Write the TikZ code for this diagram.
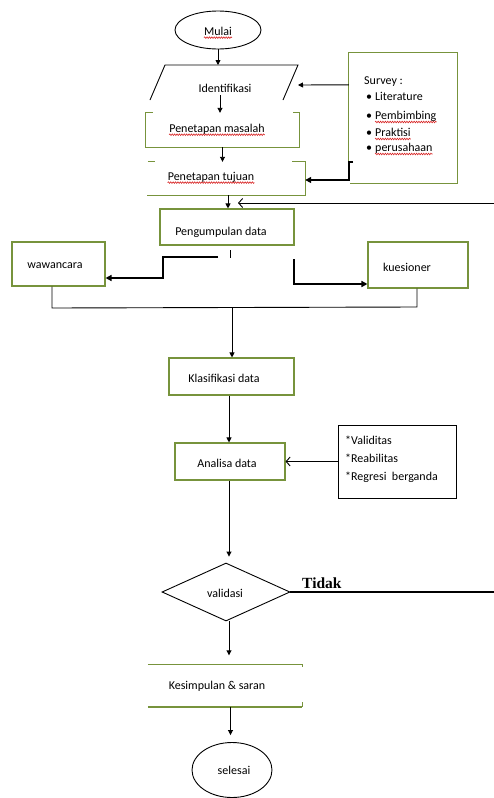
\documentclass[tikz,border=0pt]{standalone}
\usepackage{fontspec}
\setmainfont{Carlito}
\newfontfamily\tnrfont{Liberation Serif}
\usetikzlibrary{arrows.meta,shapes.geometric,decorations.pathmorphing}
\definecolor{boxgreen}{RGB}{119,147,60}
\definecolor{sqred}{RGB}{215,35,35}
\definecolor{sqblue}{RGB}{50,50,190}
\newlength\wordw
\newcommand\msize{\fontsize{12}{14}\selectfont}
\begin{document}
\begin{tikzpicture}[x=1pt,y=-1pt,
  font=\msize,
  tx/.style={inner sep=0pt},
  line/.style={line width=0.9pt},
  arr/.style={line width=0.9pt,-{Triangle[length=5pt,width=5pt]}},
  openarr/.style={line width=0.9pt,-{Straight Barb[length=4pt,width=9pt]}},
  thickarr/.style={line width=2pt,-{Triangle[length=6pt,width=6pt]}},
  gline/.style={draw=boxgreen,line width=1.1pt},
  gbox/.style={draw=boxgreen,line width=1.1pt,inner sep=0pt},
  sqr/.style={draw=sqred,line width=0.6pt,decorate,decoration={snake,amplitude=0.8pt,segment length=2.4pt}},
  sqb/.style={sqr,draw=sqblue},
]
\useasboundingbox (0,0) rectangle (494,798);

% Mulai
\node[draw,ellipse,line width=0.9pt,minimum width=86pt,minimum height=38pt,inner sep=0pt] (mulai) at (218,30) {};
\node[tx] (tmulai) at (218,31) {Mulai};
\settowidth\wordw{\msize M}
\draw[sqr] ([xshift=\wordw,yshift=-2.5pt]tmulai.base west) -- ([yshift=-2.5pt]tmulai.base east);

% Identifikasi (parallelogram)
\coordinate (pbl) at (150,100);
\coordinate (ptl) at (165,65);
\coordinate (ptr) at (298,65);
\coordinate (pbr) at (283,100);
\coordinate (identr) at (298,85);
\draw[line] (pbl) -- (ptl) -- (ptr) -- (pbr);
\node[tx] (ident) at (225,88) {Identifikasi};
\draw[arr] (mulai.south) -- (mulai.south |- ptl);

% Penetapan masalah
\node[minimum width=153pt,minimum height=34pt,inner sep=0pt] (masalah) at (222.5,130) {};
\draw[gline] ([xshift=7pt]masalah.north west) -- (masalah.north west) -- (masalah.south west)
  -- (masalah.south east) -- (masalah.north east) -- ([xshift=-6pt]masalah.north east);
\node[tx] (tmas) at (217,129) {Penetapan masalah};
\draw[sqr] ([yshift=-2.5pt]tmas.base west) -- ([yshift=-2.5pt]tmas.base east);
\draw[arr] ([xshift=-5pt,yshift=-3pt]ident.south) -- ([xshift=-5pt]ident.south |- masalah.north);

% Penetapan tujuan
\node[minimum width=158pt,minimum height=33pt,inner sep=0pt] (tujuan) at (226,178.5) {};
\draw[gline] ([xshift=1pt]tujuan.north west) -- ([xshift=8pt]tujuan.north west);
\draw[gline] ([xshift=-13pt]tujuan.north east) -- (tujuan.north east) -- (tujuan.south east) -- (tujuan.south west);
\node[tx] (ttuj) at (211,177) {Penetapan tujuan};
\draw[sqr] ([yshift=-2.5pt]ttuj.base west) -- ([yshift=-2.5pt]ttuj.base east);
\draw[arr] (masalah.south) -- (masalah.south |- tujuan.north);

% Survey box
\node[minimum width=108pt,minimum height=130pt,inner sep=0pt] (surv) at (403,118) {};
\draw[gline] ([yshift=-109pt]surv.north west) -- (surv.north west) -- (surv.north east)
  -- (surv.south east) -- ([xshift=1pt]surv.south west);
\coordinate (sb1) at (353,162);
\coordinate (sb2) at (349,162);
\coordinate (sb3) at (349,180);
\draw[thickarr] (sb1) -- (sb2) -- (sb3) -- (sb3 -| tujuan.east);
\draw[arr] ([yshift=-32pt]surv.north west) -- (identr);
\node[tx,anchor=base west] (s0) at (364,84) {Survey :};
\settowidth\wordw{\msize Survey}
\draw[sqb] ([yshift=-2.5pt]s0.base west) -- ([xshift=\wordw,yshift=-2.5pt]s0.base west);
\node[tx,anchor=base west] (b1) at (366,100) {•};
\node[tx,anchor=base west] (s1) at (375,100) {Literature};
\node[tx,anchor=base west] (b2) at (366,119) {•};
\node[tx,anchor=base west] (s2) at (375,119) {Pembimbing};
\draw[sqr] ([yshift=-3pt]s2.base west) -- ([yshift=-3pt]s2.base east);
\node[tx,anchor=base west] (b3) at (366,136) {•};
\node[tx,anchor=base west] (s3) at (375,136) {Praktisi};
\draw[sqr] ([yshift=-3pt]s3.base west) -- ([yshift=-3pt]s3.base east);
\node[tx,anchor=base west] (b4) at (366,151) {•};
\node[tx,anchor=base west] (s4) at (375,151) {perusahaan};
\draw[sqr] ([yshift=-3pt]s4.base west) -- ([yshift=-3pt]s4.base east);

% Pengumpulan data
\node[gbox,minimum width=134pt,minimum height=36pt] (peng) at (227,227) {};
\node[tx] (tpeng) at (221,232) {Pengumpulan data};
\settowidth\wordw{\msize Pengumpulan}
\draw[sqr] ([yshift=-2.5pt]tpeng.base west) -- ([xshift=\wordw,yshift=-2.5pt]tpeng.base west);
\draw[arr] ([xshift=2pt]tujuan.south) -- ([xshift=2pt]tujuan.south |- peng.north);
\coordinate (rin) at (494,203);
\coordinate (rend) at (238,203);
\draw[openarr] (rin) -- (rend);
\coordinate (tk1) at (230,250);
\coordinate (tk2) at (230,258);
\draw[line width=0.8pt] (tk1) -- (tk2);

% wawancara & kuesioner
\node[gbox,minimum width=93pt,minimum height=44pt] (wawa) at (58.5,264) {};
\node[tx] (twawa) at (55,266) {wawancara};
\node[gbox,minimum width=100pt,minimum height=46pt] (kues) at (418,265) {};
\node[tx] (tkues) at (407,267) {kuesioner};
\coordinate (w1) at (218,257);
\coordinate (w2) at (163,257);
\coordinate (w3) at (163,278);
\draw[thickarr] (w1) -- (w2) -- (w3) -- ([yshift=-14pt]wawa.east);
\coordinate (k1) at (294,259);
\coordinate (k2) at (294,284);
\draw[thickarr] (k1) -- (k2) -- ([yshift=-19pt]kues.west);

% merge
\coordinate (m1) at (52,308);
\coordinate (m2) at (417,307);
\coordinate (mrg) at (232,307.5);
\draw[line] ([xshift=-6.5pt]wawa.south) -- (m1) -- (m2) -- ([xshift=-1pt]kues.south);

% Klasifikasi
\node[gbox,minimum width=125pt,minimum height=37pt] (klas) at (231.5,376.5) {};
\node[tx] (tklas) at (224,378) {Klasifikasi data};
\draw[arr] (mrg) -- (mrg |- klas.north);

% Analisa
\node[gbox,minimum width=110pt,minimum height=37pt] (anal) at (230,461.5) {};
\node[tx] (tanal) at (227,463) {Analisa data};
\draw[arr] ([xshift=-2.5pt]klas.south) -- ([xshift=-2.5pt]klas.south |- anal.north);

% note box
\node[draw,line width=0.9pt,minimum width=118pt,minimum height=73pt,inner sep=0pt] (note) at (397,461.5) {};
\node[tx,anchor=base west] (n1) at (345,444) {*Validitas};
\node[tx,anchor=base west] (n2) at (345,462) {*Reabilitas};
\node[tx,anchor=base west] (n3) at (345,480) {*Regresi\ \ berganda};
\draw[openarr] (note.west) -- (anal.east);

% validasi
\node[draw,diamond,aspect=2.2,line width=0.9pt,minimum width=128pt,minimum height=58pt,inner sep=0pt] (valid) at (226,592) {};
\node[tx] (tvalid) at (225,593) {validasi};
\draw[arr,shorten >=6pt] ([xshift=-1pt]anal.south) -- ([xshift=-1pt]anal.south |- valid.north);
\node[tx,anchor=base west,font=\tnrfont\bfseries\fontsize{15.5}{18}\selectfont] (tidak) at (302,588) {Tidak};
\coordinate (tend) at (494,592);
\draw[line width=2.2pt] (valid.east) -- (tend);

% Kesimpulan
\node[minimum width=154pt,minimum height=42pt,inner sep=0pt] (kes) at (225,685.5) {};
\draw[gline] (kes.north west) -- (kes.north east) -- ([yshift=-3pt]kes.north east);
\draw[draw=boxgreen,line width=2pt] (kes.south west) -- (kes.south east);
\draw[gline] (kes.south east) -- ([yshift=5pt]kes.south east);
\node[tx] (tkes) at (217,686) {Kesimpulan \& saran};
\draw[arr,shorten >=9pt] ([xshift=3pt]valid.south) -- ([xshift=3pt]valid.south |- kes.north);

% selesai
\node[draw,ellipse,line width=0.9pt,minimum width=80pt,minimum height=55pt,inner sep=0pt] (sel) at (232,770) {};
\node[tx] (tsel) at (234,770) {selesai};
\draw[arr,shorten >=7pt] ([xshift=5.5pt]kes.south) -- ([xshift=5.5pt]kes.south |- sel.north);
\end{tikzpicture}
\end{document}
